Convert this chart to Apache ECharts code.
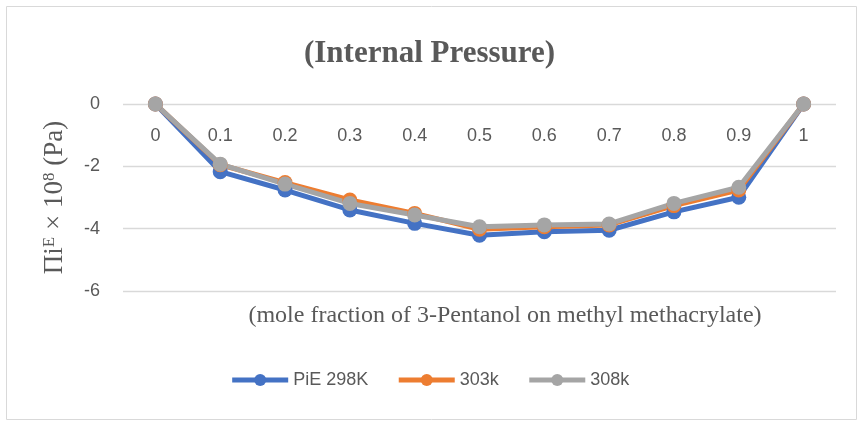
<!DOCTYPE html>
<html><head><meta charset="utf-8">
<script src="https://cdn.jsdelivr.net/npm/echarts@6/dist/echarts.min.js"></script>
<style>html,body{margin:0;padding:0;background:#fff}#c{width:859px;height:421px}</style>
</head><body><div id="c"></div>
<script>
const categories = ['0','0.1','0.2','0.3','0.4','0.5','0.6','0.7','0.8','0.9','1'];
const s298 = [0,-2.17,-2.76,-3.40,-3.83,-4.21,-4.10,-4.05,-3.46,-2.99,0];
const s303 = [0,-1.95,-2.52,-3.08,-3.51,-4.02,-3.94,-3.88,-3.26,-2.76,0];
const s308 = [0,-1.93,-2.57,-3.19,-3.56,-3.94,-3.88,-3.85,-3.19,-2.67,0];
const yTicks = [0,-2,-4,-6];
const names = ['PiE 298K','303k','308k'];
const colors = ['#4472C4','#ED7D31','#A5A5A5'];

const chart = echarts.init(document.getElementById('c'));
const mk = (name, data, color) => ({
  name, type:'line', data, color,
  symbol:'circle', symbolSize:15,
  lineStyle:{width:5,color},
  itemStyle:{color},
  emphasis:{disabled:true}, animation:false
});
chart.setOption({
  animation:false,
  graphic:[{type:'rect',shape:{x:6.5,y:6.5,width:850,height:413},style:{fill:'none',stroke:'#D9D9D9',lineWidth:1}}],
  title:[
    {text:'(Internal Pressure)',left:'center',top:33,textStyle:{fontFamily:'Liberation Serif',fontWeight:'bold',fontSize:31,color:'#595959'}},
    {text:'(mole fraction of 3-Pentanol on methyl methacrylate)',left:500,textAlign:'center',top:299,textStyle:{fontFamily:'Liberation Serif',fontWeight:'normal',fontSize:24,color:'#595959'}}
  ],
  legend:{data:names,bottom:27,left:'center',itemWidth:56,itemHeight:15,itemGap:28,
    lineStyle:{width:5},
    textStyle:{fontFamily:'Liberation Sans',fontSize:18,color:'#595959'}},
  grid:{left:123,right:23,top:104,bottom:130},
  xAxis:{type:'category',data:categories,boundaryGap:true,position:'top',
    axisLine:{show:false},axisTick:{show:false},
    axisLabel:{inside:true,margin:23,color:'#595959',fontSize:18,fontFamily:'Liberation Sans'}},
  yAxis:{type:'value',min:-6,max:0,interval:2,
    name:'{a|Πi}{s|E}{a| × 10}{s|8}{a| (Pa)}',nameLocation:'middle',nameRotate:90,nameGap:54,
    nameTextStyle:{rich:{a:{fontFamily:'Liberation Serif',fontSize:27,color:'#595959'},s:{fontFamily:'Liberation Serif',fontSize:17,color:'#595959',verticalAlign:'top',padding:[0,0,11,0]}}},
    axisLine:{show:false},axisTick:{show:false},
    splitLine:{lineStyle:{color:'#D9D9D9',width:1.3}},
    axisLabel:{margin:23,color:'#595959',fontSize:18,fontFamily:'Liberation Sans',formatter:v=>String(v)}},
  series:[mk(names[0],s298,colors[0]),mk(names[1],s303,colors[1]),mk(names[2],s308,colors[2])]
});
</script></body></html>
